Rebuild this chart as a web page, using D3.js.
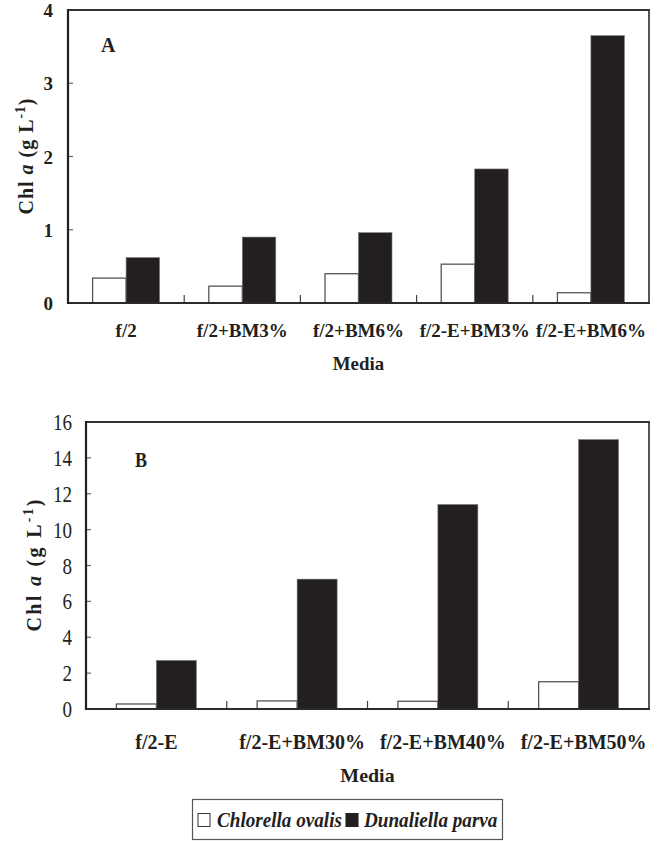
<!DOCTYPE html>
<html>
<head>
<meta charset="utf-8">
<script src="https://cdn.jsdelivr.net/npm/d3@7"></script>
<style>
  html, body { margin: 0; padding: 0; background: #fff; }
  svg { display: block; }
  text { font-family: "Liberation Serif", "Times New Roman", serif; fill: #231f20; }
</style>
</head>
<body>
<svg id="chart" width="657" height="841"></svg>
<script>
// ---- data ----
const series = ["Chlorella ovalis", "Dunaliella parva"];

const mediaA = ["f/2", "f/2+BM3%", "f/2+BM6%", "f/2-E+BM3%", "f/2-E+BM6%"];
const chlorellaA = [0.34, 0.23, 0.40, 0.53, 0.14];
const dunaliellaA = [0.62, 0.90, 0.96, 1.83, 3.65];
const ticksA = [0, 1, 2, 3, 4];

const mediaB = ["f/2-E", "f/2-E+BM30%", "f/2-E+BM40%", "f/2-E+BM50%"];
const chlorellaB = [0.28, 0.45, 0.43, 1.52];
const dunaliellaB = [2.71, 7.24, 11.40, 15.02];
const ticksB = [0, 2, 4, 6, 8, 10, 12, 14, 16];

const INK = "#231f20";
const EDGE = "#555";
const fills = ["#ffffff", INK];

const svg = d3.select("#chart");
svg.append("rect").attr("width", 657).attr("height", 841).attr("fill", "#fff");

// text placed at (x,y) with optional horizontal squeeze
function label(parent, x, y, str, o = {}) {
  const g = parent.append("g")
    .attr("transform", `translate(${x},${y})${o.rotate ? ` rotate(${o.rotate})` : ""} scale(${o.sx || 1},1)`);
  const t = g.append("text")
    .attr("text-anchor", o.anchor || "middle")
    .attr("font-size", o.size || 19)
    .attr("font-weight", o.weight || "bold")
    .attr("font-style", o.style || "normal")
    .text(str);
  return t;
}

function yTitle(parent, x, yc, size, len) {
  const t = parent.append("text")
    .attr("transform", `translate(${x},${yc}) rotate(-90)`)
    .attr("text-anchor", "middle")
    .attr("font-size", size)
    .attr("font-weight", "bold")
    .attr("textLength", len)
    .attr("lengthAdjust", "spacing");
  t.append("tspan").text("Chl ");
  t.append("tspan").attr("font-style", "italic").text("a");
  t.append("tspan").text("  (g  L");
  t.append("tspan").attr("font-size", size * 0.68).attr("dy", -size * 0.42).text("-1");
  t.append("tspan").attr("dy", size * 0.42).text(")");
}

function panel(cfg) {
  const { left, right, top, bottom, cats, a, b, ticks, ymax } = cfg;
  const g = svg.append("g");

  const x0 = d3.scaleBand().domain(cats).range([left, right]).padding(0);
  const x1 = d3.scaleBand().domain(series).range([0, x0.bandwidth()])
    .paddingInner(0).paddingOuter(cfg.outer);
  const y = d3.scaleLinear().domain([0, ymax]).range([bottom, top]);

  const rows = cats.map((c, i) => ({ cat: c, vals: [a[i], b[i]] }));

  // bars
  const grp = g.selectAll("g.grp").data(rows).join("g")
    .attr("transform", d => `translate(${x0(d.cat)},0)`);
  grp.selectAll("rect").data(d => d.vals.map((v, k) => ({ s: series[k], v, k })))
    .join("rect")
    .attr("x", d => x1(d.s))
    .attr("y", d => y(d.v))
    .attr("width", x1.bandwidth())
    .attr("height", d => y(0) - y(d.v))
    .attr("fill", d => fills[d.k])
    .attr("stroke", d => d.k === 0 ? EDGE : "#777")
    .attr("stroke-width", d => d.k === 0 ? 1.3 : 0.6);

  // y ticks (inward)
  g.selectAll("line.yt").data(ticks.filter(t => t > 0 && t < ymax)).join("line")
    .attr("x1", left).attr("x2", left + 5)
    .attr("y1", d => y(d)).attr("y2", d => y(d))
    .attr("stroke", "#666").attr("stroke-width", 1.2);

  // x separators between categories
  g.selectAll("line.xt").data(cats.slice(1)).join("line")
    .attr("x1", d => x0(d)).attr("x2", d => x0(d))
    .attr("y1", bottom).attr("y2", bottom - 8)
    .attr("stroke", "#444").attr("stroke-width", 1.2);

  // frame
  g.append("line").attr("x1", right).attr("x2", right).attr("y1", top).attr("y2", bottom)
    .attr("stroke", "#555").attr("stroke-width", 2);
  g.append("line").attr("x1", left).attr("x2", right + 1).attr("y1", top).attr("y2", top)
    .attr("stroke", "#333").attr("stroke-width", 2.2);
  g.append("line").attr("x1", left).attr("x2", right + 1).attr("y1", bottom).attr("y2", bottom)
    .attr("stroke", "#2a2a2a").attr("stroke-width", 2.2);
  g.append("line").attr("x1", left).attr("x2", left).attr("y1", top - 1).attr("y2", bottom + 1)
    .attr("stroke", INK).attr("stroke-width", 2.2);

  // tick labels
  ticks.forEach(t => {
    label(g, left - cfg.tickPad, y(t) + cfg.tickDy, String(t),
      { anchor: "end", size: cfg.tickSize, weight: cfg.tickWeight, sx: cfg.tickSx });
  });

  // category labels
  cats.forEach(c => {
    label(g, x0(c) + x0.bandwidth() / 2 + (cfg.catShift ? cfg.catShift(c) : 0),
      cfg.catY, c, { size: cfg.catSize });
  });

  // axis title
  label(g, (left + right) / 2, cfg.mediaY, "Media", { size: cfg.mediaSize, sx: 1.05 });
  yTitle(g, cfg.titleX, (top + bottom) / 2, cfg.titleSize, cfg.titleLen);

  // panel letter
  label(g, cfg.letterX, cfg.letterY, cfg.letter, { anchor: "start", size: cfg.letterSize, sx: cfg.letterSx });
}

panel({
  left: 68, right: 649, top: 10, bottom: 303,
  cats: mediaA, a: chlorellaA, b: dunaliellaA, ticks: ticksA, ymax: 4, outer: 0.735,
  tickPad: 15, tickDy: 7, tickSize: 19, tickWeight: "bold", tickSx: 1,
  catY: 337, catSize: 19,
  mediaY: 370, mediaSize: 18,
  titleX: 33, titleSize: 20, titleLen: 116,
  letter: "A", letterX: 101, letterY: 52, letterSize: 20, letterSx: 1
});

panel({
  left: 86, right: 649, top: 422, bottom: 709,
  cats: mediaB, a: chlorellaB, b: dunaliellaB, ticks: ticksB, ymax: 16, outer: 0.76,
  tickPad: 14, tickDy: 8, tickSize: 23.5, tickWeight: "normal", tickSx: 0.81,
  catY: 749, catSize: 20,
  catShift: c => c === mediaB[0] ? 0 : 5,
  mediaY: 782, mediaSize: 19,
  titleX: 41, titleSize: 20, titleLen: 132,
  letter: "B", letterX: 135, letterY: 467, letterSize: 21, letterSx: 0.86
});

// legend
const lg = svg.append("g");
lg.append("rect").attr("x", 192.5).attr("y", 799.5).attr("width", 310).attr("height", 40)
  .attr("fill", "#fff").attr("stroke", "#555").attr("stroke-width", 1.2);
const legendX = [[198, 217], [346, 364]];
series.forEach((s, k) => {
  lg.append("rect").attr("x", legendX[k][0]).attr("y", 813.5).attr("width", 12).attr("height", 13)
    .attr("fill", fills[k]).attr("stroke", k === 0 ? "#333" : INK).attr("stroke-width", 1);
  label(lg, legendX[k][1], 827, s, { anchor: "start", size: 22, style: "italic", sx: 0.87 });
});
</script>
</body>
</html>
